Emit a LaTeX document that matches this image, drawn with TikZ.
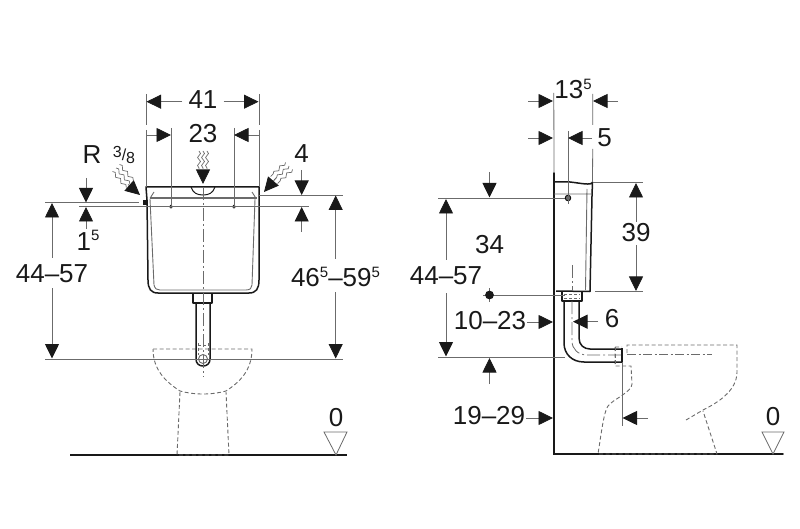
\documentclass[tikz,border=0pt]{standalone}
\usepackage{fontspec}
\setmainfont{Liberation Sans}
\usetikzlibrary{arrows.meta,decorations.pathmorphing}
\definecolor{ink}{gray}{0.1}
\definecolor{thin}{gray}{0.42}
\newcommand{\upf}[1]{\raisebox{0.38em}{\fontsize{15}{15}\selectfont #1}}
\tikzset{
  lab/.style={font=\fontsize{26}{26}\selectfont,text=ink,inner sep=0pt},
  small/.style={font=\fontsize{16}{16}\selectfont,text=ink,inner sep=0pt},
  body/.style={draw=ink,line width=1.5pt,line join=round},
  inner/.style={draw=thin,line width=0.9pt},
  guide/.style={draw=thin,line width=0.8pt},
  dim/.style={draw=thin,line width=0.8pt,-{Triangle[length=14.5pt,width=14pt,fill=ink,color=ink]}},
  ground/.style={draw=ink,line width=1.7pt},
  wc/.style={draw=thin,line width=0.9pt,dash pattern=on 4pt off 2.5pt},
  axis/.style={draw=thin,line width=0.8pt,dash pattern=on 13pt off 3pt on 2pt off 3pt},
  wave/.style={draw=thin,line width=0.7pt,decorate,decoration={snake,amplitude=1.5pt,segment length=8pt}},
  level/.style={draw=thin,line width=0.8pt,fill=white},
}
\begin{document}
\begin{tikzpicture}[x=1pt,y=-1pt]
\useasboundingbox (0,0) rectangle (800,529);
% ---------- named points: left view ----------
\coordinate (tA) at (146,187); \coordinate (tB) at (259,187);
\coordinate (hL) at (171,206.7); \coordinate (hR) at (234,206.7);
\coordinate (ctr) at (203,359);
% ---------- left view: floor and WC ----------
\draw[ground] (70,455) -- (347,455);
\draw[wc] (153,349) -- (252,349) .. controls (252,370) and (240,382) .. (226,391) .. controls (212,395) and (194,395) .. (180,391) .. controls (166,382) and (153,370) .. (153,349);
\draw[wc] (180,392) -- (177,455) -- (229,455) -- (226,392);
% ---------- left view: tank ----------
\draw[body] (tA) -- (tB) -- (259,200) -- (259,280) .. controls (259,289) and (256,293) .. (249,293) -- (158,293) .. controls (151,293) and (148,289) .. (148,280) -- (147,200) -- cycle;
\draw[inner] (150,199) -- (154,285) .. controls (155,289) and (157,290) .. (160,290) -- (246,290) .. controls (250,290) and (252,288) .. (252,285) -- (255,199);
\draw[draw=thin,line width=1.6pt] (150,198.3) -- (257,198.3);
\draw[inner] (154,192) -- (150,198.3) (252,192) -- (256,198.3);
\draw[line width=1pt,draw=ink] (191,187) .. controls (193,193) and (197,195) .. (203,195) .. controls (209,195) and (213,193) .. (215,187);
\fill[ink] (143,200) rectangle (147,205);
\draw[thin,line width=0.6pt] (hL) circle (1.6) (hR) circle (1.6);
% ---------- left view: pipe ----------
\draw[body] (193,293) -- (193,303) -- (212,303) -- (212,293);
\draw[body] (196,303) -- (196,359) .. controls (196,363.5) and (199,366) .. (203,366) .. controls (207,366) and (210,363.5) .. (210,359) -- (210,303);
\draw[inner] (ctr) circle (4.5);
\draw[inner,dash pattern=on 3pt off 2pt] (198,343) -- (198,355) (208,343) -- (208,355) (198,345) -- (208,345);
\draw[axis] (203,187) -- (203,377);
% ---------- left view: dimension guides ----------
\draw[guide] (146,94) -- (146,125) (146,130) -- (tA);
\draw[guide] (259,94) -- (259,125) (259,130) -- (tB);
\draw[guide] (171,128) -- (hL) (234,128) -- (hR);
\draw[guide] (146,135) -- (157,135) (248,135) -- (259,135);
\draw[guide] (45,202.7) -- (139,202.7);
\draw[guide] (79,206.7) -- (hL) (hL) -- (hR) (hR) -- (309,206.7);
\draw[guide] (259,195) -- (343,195);
\draw[guide] (45,359) -- (343,359);
% ---------- left view: labels and arrows ----------
\node[lab] (t41) at (203,100) {41};
\node[lab] (t23) at (203,134) {23};
\node[lab] (tR) at (92,155) {R};
\node[small] (t38) at (124,155) {\raisebox{3pt}{3}/\raisebox{-3pt}{8}};
\node[lab] (t4) at (301.5,154) {4};
\node[lab] (t15) at (88,240) {1\upf{5}};
\node[lab] (t4457a) at (52,274) {44–57};
\node[lab] (t465) at (335.5,277) {46\upf{5}–59\upf{5}};
\node[lab] (t0a) at (336,418) {0};
\draw[dim] (t41.west) ++(-6,1.7) -- (146.5,101.7);
\draw[dim] (t41.east) ++(6,1.7) -- (258.5,101.7);
\draw[dim] (146,135) -- (171,135);
\draw[dim] (259,135) -- (234,135);
\draw[dim] (203,170) -- (203,184);
\foreach \d in {-4,0,4}{\draw[wave] (203+\d,151) -- (203+\d,170);}
\draw[dim] (128,184.5) -- (140,195);
\foreach \d in {-3.5,0,3.5}{\draw[wave] (116+\d,168-\d) -- (130+\d,184-\d);}
\draw[dim] (276,178) -- (264,192);
\foreach \d in {-3.5,0,3.5}{\draw[wave] (289+\d,166+\d) -- (274+\d,180+\d);}
\draw[dim] (86,178) -- (86,202.5);
\draw[dim] (86,229) -- (86,207);
\draw[dim] (52,258) -- (52,203);
\draw[dim] (52,288) -- (52,358.5);
\draw[dim] (301.7,170) -- (301.7,195);
\draw[dim] (301.7,232) -- (301.7,207);
\draw[dim] (335.7,259) -- (335.7,195.5);
\draw[dim] (335.7,292) -- (335.7,358.5);
\draw[level] (324,432) -- (347,432) -- (336,455) -- cycle;
% ---------- named points: right view ----------
\coordinate (wT) at (554,173); \coordinate (wB) at (554,454);
\coordinate (stT) at (592.5,182); \coordinate (stB) at (590,291.5);
\coordinate (tgt) at (568,198);
\coordinate (dot) at (489.5,295);
% ---------- right view: wall, floor, WC ----------
\draw[ground,line cap=round] (wT) -- (wB) -- (783,454);
\draw[wc] (615,347) -- (622,347) (615,347) -- (615,366) -- (631,366) -- (632,384) .. controls (632,392) and (612,400) .. (608,406) .. controls (604,412) and (602,428) .. (598,454) -- (717,454) -- (703,411);
\draw[wc] (627,353) -- (627,345) -- (737,345) -- (737,372) .. controls (737,392) and (715,404) .. (703,410) -- (686,420);
\draw[wc,dash pattern=on 9pt off 2.5pt on 2pt off 2.5pt] (627,354.5) -- (712,354.5);
% ---------- right view: tank ----------
\draw[body] (555,182) -- (570,182) .. controls (580,183) and (592,186) .. (stT) -- (592,196) -- (stB) -- (556,291);
\draw[inner] (554,194) -- (592,194) (587,189) -- (585.5,290);
\draw[guide] (438,198) -- (tgt);
\draw[thin,line width=0.8pt,fill=thin] (tgt) circle (2.8);
\draw[guide] (568,131) -- (568,204);
\draw[axis] (572,265) -- (572,291);
% ---------- right view: pipe ----------
\draw[body] (562,291) -- (562,301) -- (582,301) -- (582,291);
\draw[inner,dash pattern=on 3pt off 2pt] (564,294) -- (580,294) (564,298) -- (580,298);
\draw[body] (564,301) -- (564,343) .. controls (564,354) and (572,362) .. (584,362) -- (622,362);
\draw[body] (579,301) -- (579,338) .. controls (579,345) and (584,349) .. (590,349) -- (622,349);
\draw[ink,line width=2pt] (622,348) -- (622,363);
\draw[axis] (572,301) -- (572,341) .. controls (572,349) and (578,355) .. (587,355) -- (622,355);
\draw[wc] (615,347) -- (615,366);
% ---------- right view: dimension guides ----------
\draw[guide] (553.8,93) -- (wT);
\draw[guide] (592.7,94) -- (592.7,125) (592.7,149) -- (stT);
\draw[guide] (stT) -- (643,182);
\draw[guide] (595,291.7) -- (643,291.7);
\draw[guide] (483,295) -- (565,295);
\draw[guide] (489.5,288) -- (489.5,302);
\fill[ink] (dot) circle (4.4);
\draw[guide] (438,357) -- (565,357);
\draw[guide] (622,362) -- (622,426);
% ---------- right view: labels and arrows ----------
\node[lab] (t135) at (573,89) {13\upf{5}};
\node[lab] (t5) at (604.5,138) {5};
\node[lab] (t39) at (636,233) {39};
\node[lab] (t34) at (489.5,244.5) {34};
\node[lab] (t4457b) at (446,276) {44–57};
\node[lab] (t1023) at (490,320.5) {10–23};
\node[lab] (t1929) at (489,416) {19–29};
\node[lab] (t6) at (612,319) {6};
\node[lab] (t0b) at (773,417) {0};
\draw[dim] (528,101) -- (553,101);
\draw[dim] (618,101) -- (593,101);
\draw[dim] (528,138) -- (553,138);
\draw[dim] (592,138) -- (568,138);
\draw[dim] (636,222) -- (636,183);
\draw[dim] (636,245) -- (636,291);
\draw[dim] (489.5,172) -- (489.5,197.5);
\draw[dim] (489.5,384) -- (489.5,358);
\draw[dim] (446,260) -- (446,199);
\draw[dim] (446,293) -- (446,356.5);
\draw[dim] (t1023.east) ++(1,1.5) -- (553,322);
\draw[dim] (t1929.east) ++(1,2) -- (553,418);
\draw[dim] (598,321.7) -- (573,321.7);
\draw[dim] (648,418) -- (622.5,418);
\draw[level] (762,432) -- (784,432) -- (773,454) -- cycle;
\end{tikzpicture}
\end{document}
